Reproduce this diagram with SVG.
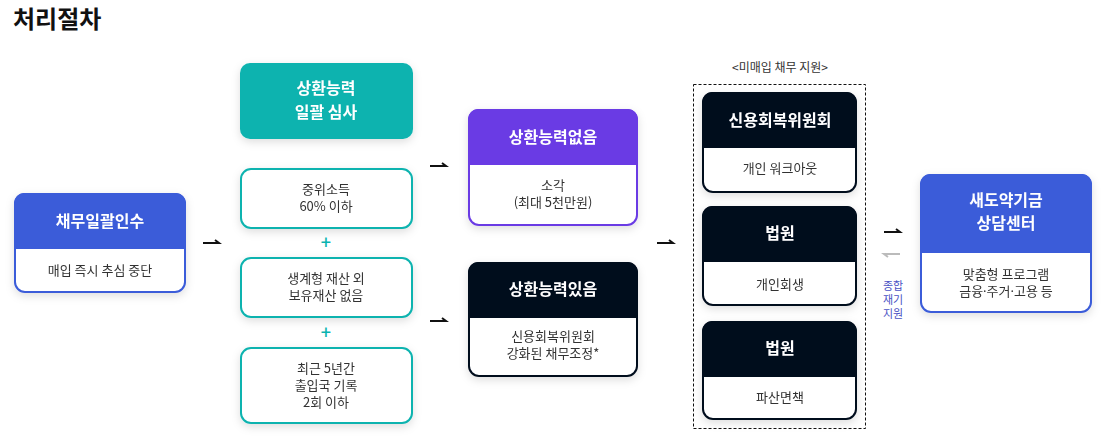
<svg xmlns="http://www.w3.org/2000/svg" width="1106" height="441" viewBox="0 0 1106 441">
<style>
text{font-family:"Noto Sans CJK KR","Noto Sans",sans-serif;text-anchor:middle}
.title{font-size:24px;font-weight:700;fill:#111;text-anchor:start}
.hd{font-size:16px;font-weight:700;fill:#fff}
.bd{font-size:13px;fill:#333}
.sm{font-size:12px;fill:#333}
.side{font-size:11px;fill:#4a52c4}
.plus{font-size:18px;font-weight:500;fill:#0bb3af}
.dot{font-family:"Noto Sans",sans-serif}
.card{fill:#fff;stroke-width:2}
.blue{stroke:#3a5bd9}.blueF{fill:#3a5bd9}
.teal{stroke:#0bb3af}.tealF{fill:#0bb3af}
.purp{stroke:#6a3be4}.purpF{fill:#6a3be4}
.dark{stroke:#020d1f}.darkF{fill:#020d1f}
.arr{fill:none;stroke:#111;stroke-width:2;stroke-linejoin:miter}
.arrg{fill:none;stroke:#bbb;stroke-width:2}
</style>
<defs>
<filter id="sh" x="-20%" y="-20%" width="140%" height="150%">
<feDropShadow dx="0" dy="3" stdDeviation="4" flood-color="#000" flood-opacity="0.13"/>
</filter>
</defs>
<rect width="1106" height="441" fill="#fff"/>
<text class="title" x="13" y="28">처리절차</text>

<g id="connectors">
<path class="arr" d="M203 243 H219 L215 240"/>
<path class="arr" d="M430 166 H446 L442 163"/>
<path class="arr" d="M430 321 H446 L442 318"/>
<path class="arr" d="M657 243 H673 L669 240"/>
<path class="arr" d="M884 232 H900 L896 229"/>
<path class="arrg" d="M900 254 H884 L888 257"/>
<text class="side" x="893" y="290">종합</text>
<text class="side" x="893" y="304">재기</text>
<text class="side" x="893" y="318">지원</text>
</g>

<g id="node-intake" filter="url(#sh)">
<rect class="card blue" x="15" y="194" width="170" height="98" rx="10"/>
<path class="blueF" d="M14 249 V203 A10 10 0 0 1 24 193 H176 A10 10 0 0 1 186 203 V249 Z"/>
<text class="hd" x="100" y="227">채무일괄인수</text>
<text class="bd" x="100" y="275">매입 즉시 추심 중단</text>
</g>

<g id="node-review" filter="url(#sh)">
<rect class="tealF" x="240" y="63" width="173" height="76" rx="10"/>
<text class="hd" x="326" y="94">상환능력</text>
<text class="hd" x="326" y="118">일괄 심사</text>
</g>

<g id="node-income" filter="url(#sh)">
<rect class="card teal" x="241" y="169" width="171" height="59" rx="10"/>
<text class="bd" x="326" y="194">중위소득</text>
<text class="bd" x="326" y="211">60% 이하</text>
</g>
<text class="plus" x="326" y="249">+</text>
<g id="node-assets" filter="url(#sh)">
<rect class="card teal" x="241" y="258" width="171" height="59" rx="10"/>
<text class="bd" x="326" y="283">생계형 재산 외</text>
<text class="bd" x="326" y="300">보유재산 없음</text>
</g>
<text class="plus" x="326" y="339">+</text>
<g id="node-travel" filter="url(#sh)">
<rect class="card teal" x="241" y="348" width="171" height="75" rx="10"/>
<text class="bd" x="326" y="373">최근 5년간</text>
<text class="bd" x="326" y="390">출입국 기록</text>
<text class="bd" x="326" y="407">2회 이하</text>
</g>

<g id="node-unable" filter="url(#sh)">
<rect class="card purp" x="469" y="110" width="168" height="115" rx="10"/>
<path class="purpF" d="M468 165 V119 A10 10 0 0 1 478 109 H628 A10 10 0 0 1 638 119 V165 Z"/>
<text class="hd" x="553" y="143">상환능력없음</text>
<text class="bd" x="553" y="190">소각</text>
<text class="bd" x="553" y="207">(최대 5천만원)</text>
</g>

<g id="node-able" filter="url(#sh)">
<rect class="card dark" x="469" y="263" width="168" height="113" rx="10"/>
<path class="darkF" d="M468 318 V272 A10 10 0 0 1 478 262 H628 A10 10 0 0 1 638 272 V318 Z"/>
<text class="hd" x="553" y="295">상환능력있음</text>
<text class="bd" x="553" y="341">신용회복위원회</text>
<text class="bd" x="553" y="358">강화된 채무조정*</text>
</g>

<g id="group-unpurchased">
<text class="sm" x="780" y="72">&lt;미매입 채무 지원&gt;</text>
<rect x="693.5" y="84.5" width="172" height="344" fill="none" stroke="#111" stroke-width="1" stroke-dasharray="3 2"/>
</g>

<g id="node-workout" filter="url(#sh)">
<rect class="card dark" x="703" y="93" width="153" height="99" rx="10"/>
<path class="darkF" d="M702 148 V102 A10 10 0 0 1 712 92 H847 A10 10 0 0 1 857 102 V148 Z"/>
<text class="hd" x="780" y="126">신용회복위원회</text>
<text class="bd" x="780" y="173">개인 워크아웃</text>
</g>

<g id="node-rehab" filter="url(#sh)">
<rect class="card dark" x="703" y="207" width="153" height="98" rx="10"/>
<path class="darkF" d="M702 262 V216 A10 10 0 0 1 712 206 H847 A10 10 0 0 1 857 216 V262 Z"/>
<text class="hd" x="780" y="239">법원</text>
<text class="bd" x="780" y="289">개인회생</text>
</g>

<g id="node-bankrupt" filter="url(#sh)">
<rect class="card dark" x="703" y="322" width="153" height="97" rx="10"/>
<path class="darkF" d="M702 377 V331 A10 10 0 0 1 712 321 H847 A10 10 0 0 1 857 331 V377 Z"/>
<text class="hd" x="780" y="354">법원</text>
<text class="bd" x="780" y="402">파산면책</text>
</g>

<g id="node-center" filter="url(#sh)">
<rect class="card blue" x="921" y="175" width="170" height="137" rx="10"/>
<path class="blueF" d="M920 253 V184 A10 10 0 0 1 930 174 H1082 A10 10 0 0 1 1092 184 V253 Z"/>
<text class="hd" x="1006" y="206">새도약기금</text>
<text class="hd" x="1006" y="229">상담센터</text>
<text class="bd" x="1006" y="279">맞춤형 프로그램</text>
<text class="bd" x="1006" y="296">금융<tspan class="dot">·</tspan>주거<tspan class="dot">·</tspan>고용 등</text>
</g>
</svg>
